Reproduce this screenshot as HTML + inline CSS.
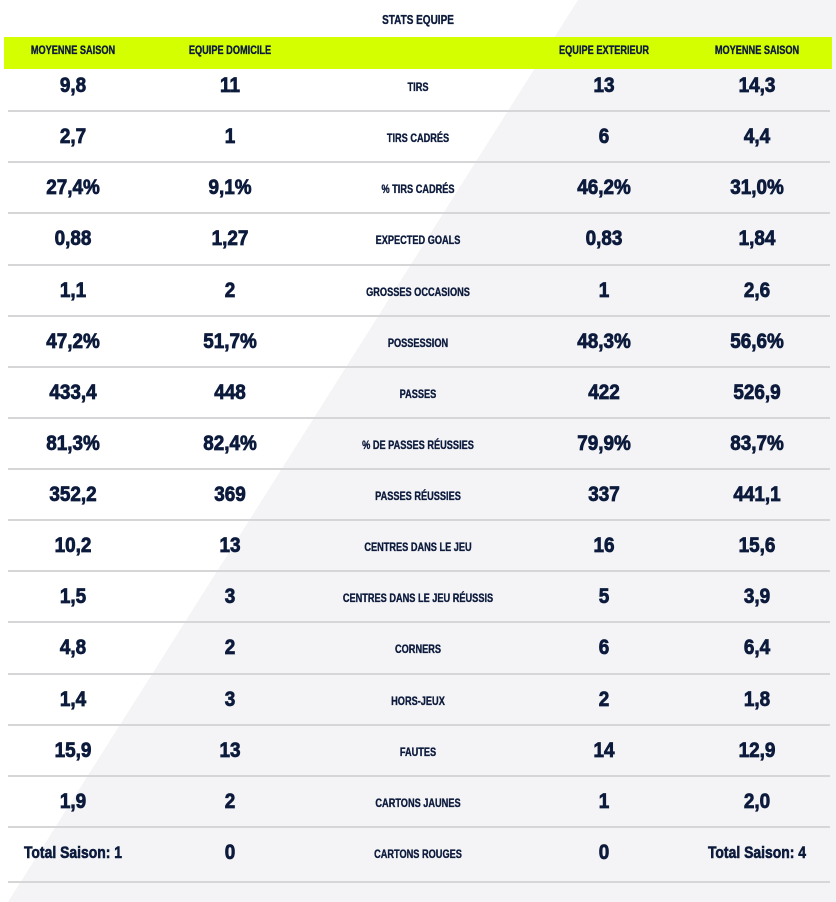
<!DOCTYPE html>
<html><head><meta charset="utf-8"><style>
*{margin:0;padding:0;box-sizing:border-box}
body{width:836px;height:902px;background:#fff;position:relative;overflow:hidden;font-family:"Liberation Sans",sans-serif;color:#0c1a3c}
.bg{position:absolute;left:0;top:0}
.hdr{position:absolute;left:4px;top:37px;width:828px;height:32px;background:#d4ff00}
.t{position:absolute;white-space:nowrap;font-weight:bold;transform:translate(-50%,-50%) scaleX(0.8);-webkit-text-stroke:0.35px #0c1a3c}
.h{font-size:11.5px}
.v{font-size:21px;transform:translate(-50%,-50%) scaleX(0.9);-webkit-text-stroke:0.8px #0c1a3c}
.l{font-size:11.5px}
.s{font-size:17px;transform:translate(-50%,-50%) scaleX(0.82);-webkit-text-stroke:0.6px #0c1a3c}
.line{position:absolute;left:8px;width:822px;height:2px;background:#d6d6d8}
</style></head><body>
<svg class="bg" width="836" height="902"><polygon points="578,0 836,0 836,902 8,902" fill="#f4f4f6"/></svg>
<div class="t h" style="left:418px;top:20px;font-size:12.5px">STATS EQUIPE</div>
<div class="hdr"></div>
<div class="t h" style="left:73px;top:51px">MOYENNE SAISON</div>
<div class="t h" style="left:230px;top:51px">EQUIPE DOMICILE</div>
<div class="t h" style="left:604px;top:51px">EQUIPE EXTERIEUR</div>
<div class="t h" style="left:757px;top:51px">MOYENNE SAISON</div>
<div id="rows"></div>
<script>
var d=[["9,8","11","TIRS","13","14,3"],["2,7","1","TIRS CADRÉS","6","4,4"],["27,4%","9,1%","% TIRS CADRÉS","46,2%","31,0%"],["0,88","1,27","EXPECTED GOALS","0,83","1,84"],["1,1","2","GROSSES OCCASIONS","1","2,6"],["47,2%","51,7%","POSSESSION","48,3%","56,6%"],["433,4","448","PASSES","422","526,9"],["81,3%","82,4%","% DE PASSES RÉUSSIES","79,9%","83,7%"],["352,2","369","PASSES RÉUSSIES","337","441,1"],["10,2","13","CENTRES DANS LE JEU","16","15,6"],["1,5","3","CENTRES DANS LE JEU RÉUSSIS","5","3,9"],["4,8","2","CORNERS","6","6,4"],["1,4","3","HORS-JEUX","2","1,8"],["15,9","13","FAUTES","14","12,9"],["1,9","2","CARTONS JAUNES","1","2,0"],["Total Saison: 1","0","CARTONS ROUGES","0","Total Saison: 4"]];
var xs=[73,230,418,604,757],h="";
d.forEach(function(r,i){var y=86+i*51.13;
r.forEach(function(c,j){var cl=j==2?"l":(c.indexOf("Total")==0?"s":"v");
h+='<div class="t '+cl+'" style="left:'+xs[j]+'px;top:'+(y+(j==2?2:0))+'px">'+c+'</div>';});
if(i>0)h+='<div class="line" style="top:'+(Math.round(y-26)-1)+'px"></div>';});
h+='<div class="line" style="top:881px"></div>';
document.getElementById("rows").innerHTML=h;
</script>
</body></html>
